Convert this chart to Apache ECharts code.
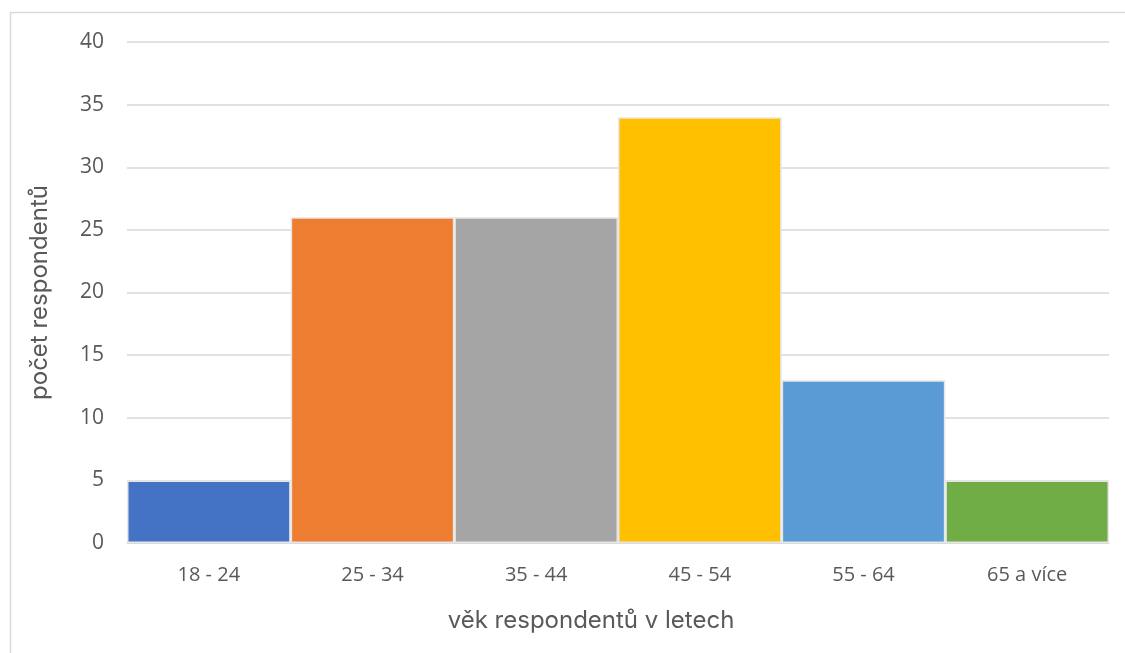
<!DOCTYPE html>
<html>
<head>
<meta charset="utf-8">
<script src="https://cdn.jsdelivr.net/npm/echarts@6/dist/echarts.min.js"></script>
<style>
  html, body { margin: 0; padding: 0; background: #ffffff; }
  #chart { width: 1125px; height: 653px; }
</style>
</head>
<body>
<div id="chart"></div>
<script>
// Age groups of respondents and how many fell into each
const categories = ['18 - 24', '25 - 34', '35 - 44', '45 - 54', '55 - 64', '65 a více'];
const counts = [5, 26, 26, 34, 13, 5];
const barColors = ['#4472C4', '#ED7D31', '#A5A5A5', '#FFC000', '#5B9BD5', '#70AD47'];
const yTicks = { min: 0, max: 40, interval: 5 };

const chart = echarts.init(document.getElementById('chart'), null, { renderer: 'canvas' });

const labelFont = '"Open Sans", "Liberation Sans", sans-serif';
const titleFont = 'Inter, Roboto, "Noto Sans", sans-serif';

chart.setOption({
  animation: false,
  backgroundColor: '#ffffff',
  graphic: [{
    type: 'rect',
    shape: { x: 10.5, y: 12.5, width: 1140, height: 660 },
    style: { fill: 'none', stroke: '#D9D9D9', lineWidth: 1.5 },
    silent: true
  }],
  grid: { left: 127, right: 16, top: 42, bottom: 110, containLabel: false },
  xAxis: {
    type: 'category',
    data: categories,
    name: 'věk respondentů v letech',
    nameLocation: 'middle',
    nameGap: 66,
    nameTextStyle: { fontFamily: titleFont, fontSize: 24, color: '#595959', padding: [0, 54, 0, 0] },
    axisLine: { show: true, lineStyle: { color: '#D9D9D9', width: 1.5 } },
    axisTick: { show: false },
    axisLabel: { fontFamily: labelFont, fontSize: 20, color: '#595959', margin: 22 }
  },
  yAxis: {
    type: 'value',
    min: yTicks.min,
    max: yTicks.max,
    interval: yTicks.interval,
    name: 'počet respondentů',
    nameLocation: 'middle',
    nameGap: 75,
    nameTextStyle: { fontFamily: titleFont, fontSize: 24, color: '#595959' },
    axisLine: { show: false },
    axisTick: { show: false },
    axisLabel: { fontFamily: labelFont, fontSize: 21, color: '#595959', margin: 23 },
    splitLine: { lineStyle: { color: '#D9D9D9', width: 1.5 } }
  },
  series: [{
    type: 'bar',
    barCategoryGap: '0%',
    data: counts.map((v, i) => ({
      value: v,
      itemStyle: { color: barColors[i] }
    })),
    itemStyle: { borderColor: '#E6E6E6', borderWidth: 1.5 }
  }]
});
</script>
</body>
</html>
